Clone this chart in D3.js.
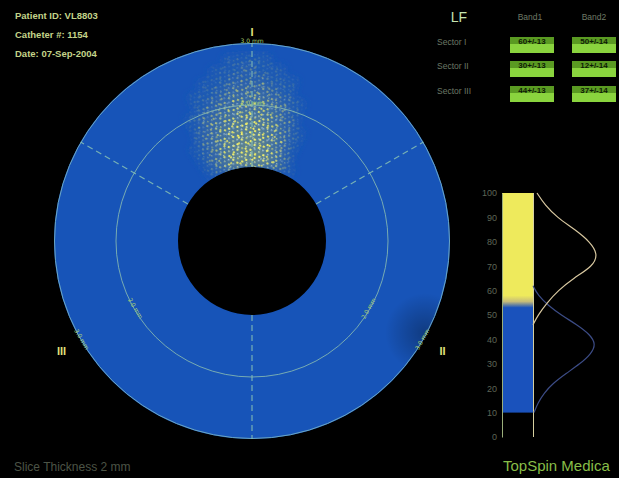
<!DOCTYPE html>
<html>
<head>
<meta charset="utf-8">
<script src="https://cdn.jsdelivr.net/npm/d3@7"></script>
<style>
  body { margin: 0; background: #000; }
  svg { display: block; }
</style>
</head>
<body>
<svg id="chart" width="619" height="478"></svg>
<script>
// header / table text
const headerLines = ['Patient ID: VL8803', 'Catheter #: 1154', 'Date: 07-Sep-2004'];
const tableTitle = 'LF';
const bandNames = ['Band1', 'Band2'];
const sectorRows = ['Sector I', 'Sector II', 'Sector III'];
const band1Values = ['60+/-13', '30+/-13', '44+/-13'];
const band2Values = ['50+/-14', '12+/-14', '37+/-14'];

// polar plot
const sectorNames = ['I', 'II', 'III'];
const sectorAngles = [0, 120, 240];          // degrees, clockwise from top
const boundaryAngles = [0, 60, 180, 300];
const ringLabels = ['2.0 mm', '3.0 mm'];     // middle ring, outer ring

// speckle intensity (0-9), rows = inner -> outer, cols = left -> right
const speckle = [
  [1, 2, 4, 6, 8, 9, 9, 9, 8, 6, 4, 2, 1],
  [1, 3, 4, 6, 8, 9, 9, 9, 8, 6, 4, 2, 0],
  [1, 2, 4, 6, 7, 8, 9, 8, 7, 5, 3, 1, 0],
  [1, 2, 4, 5, 7, 8, 8, 8, 6, 5, 3, 1, 0],
  [0, 2, 3, 5, 6, 7, 7, 7, 6, 4, 2, 1, 0],
  [0, 1, 3, 4, 5, 6, 6, 6, 5, 3, 2, 0, 0],
  [0, 1, 2, 3, 4, 5, 5, 5, 4, 3, 1, 0, 0],
  [0, 0, 1, 2, 3, 4, 4, 4, 3, 2, 1, 0, 0],
  [0, 0, 1, 1, 2, 3, 3, 3, 2, 1, 0, 0, 0],
  [0, 0, 0, 1, 1, 2, 2, 2, 1, 1, 0, 0, 0],
  [0, 0, 0, 0, 1, 1, 2, 1, 1, 0, 0, 0, 0],
  [0, 0, 0, 0, 0, 1, 1, 1, 0, 0, 0, 0, 0]
];

// colour bar + distributions
const barTicks = [0, 10, 20, 30, 40, 50, 60, 70, 80, 90, 100];
const blueBand = [10, 53];
const yellowBand = [58, 100];
const yellowLevels = [100, 95, 90, 85, 80, 75, 70, 65, 60, 55, 50, 46];
const yellowFreq = [4, 12, 24, 42, 57, 65, 60, 40, 25, 14, 5, 0];
const blueLevels = [62, 58, 54, 50, 46, 42, 38, 34, 30, 26, 22, 18, 14, 10];
const blueFreq = [0, 5, 15, 28, 44, 57, 63, 58, 47, 33, 20, 11, 5, 1];

const BLUE = '#1754b8';
const YELLOW = '#eeea5c';
const TXT = '#c4d48a';

const svg = d3.select('#chart');
const defs = svg.append('defs');

svg.append('rect').attr('width', 619).attr('height', 478).attr('fill', '#000');

// ---------- header ----------
svg.append('g')
  .selectAll('text')
  .data(headerLines)
  .enter().append('text')
    .attr('x', 15)
    .attr('y', (d, i) => 19 + i * 19)
    .attr('fill', TXT)
    .attr('font-family', 'Liberation Sans, Arial, sans-serif')
    .attr('font-weight', 'bold')
    .attr('font-size', 9.5)
    .text(d => d);

// ---------- polar plot ----------
const cx = 252, cy = 241;
const rHole = 74, rMid = 136, rOuter = 198;
const rad = deg => deg * Math.PI / 180;
const pt = (deg, r) => [cx + r * Math.sin(rad(deg)), cy - r * Math.cos(rad(deg))];

const polar = svg.append('g');
const ringPath = d3.arc()({ innerRadius: rHole, outerRadius: rOuter, startAngle: 0, endAngle: 2 * Math.PI });

polar.append('path')
  .attr('transform', `translate(${cx},${cy})`)
  .attr('d', ringPath)
  .attr('fill', BLUE);

defs.append('clipPath').attr('id', 'ringClip')
  .append('path')
    .attr('transform', `translate(${cx},${cy})`)
    .attr('d', ringPath);

// darker shading near sector II rim
const shade = defs.append('radialGradient').attr('id', 'shade');
shade.append('stop').attr('offset', '0%').attr('stop-color', '#000').attr('stop-opacity', 0.3);
shade.append('stop').attr('offset', '100%').attr('stop-color', '#000').attr('stop-opacity', 0);
const shadePt = pt(118, 196);
polar.append('circle')
  .attr('clip-path', 'url(#ringClip)')
  .attr('cx', shadePt[0]).attr('cy', shadePt[1]).attr('r', 40)
  .attr('fill', 'url(#shade)');

// speckle cells
const nRows = speckle.length, nCols = speckle[0].length;
const rScale = d3.scaleLinear().domain([0, nRows]).range([rHole, rHole + nRows * 9.4]);
const aScale = d3.scaleLinear().domain([0, nCols]).range([rad(-34), rad(31)]);
const cells = [];
speckle.forEach((row, j) => row.forEach((v, i) => {
  if (v > 0) cells.push({ i, j, v });
}));
const cellArc = d3.arc()
  .innerRadius(d => rScale(d.j))
  .outerRadius(d => rScale(d.j + 1))
  .startAngle(d => aScale(d.i))
  .endAngle(d => aScale(d.i + 1));

defs.append('filter').attr('id', 'blur').attr('x', '-30%').attr('y', '-30%').attr('width', '160%').attr('height', '160%')
  .append('feGaussianBlur').attr('stdDeviation', 3.5);

const glowColor = d3.interpolateRgb(BLUE, '#d6d24a');
polar.append('g')
  .attr('clip-path', 'url(#ringClip)')
  .append('g')
    .attr('filter', 'url(#blur)')
    .attr('transform', `translate(${cx},${cy})`)
    .selectAll('path')
    .data(cells)
    .enter().append('path')
      .attr('d', cellArc)
      .attr('fill', d => glowColor(d.v / 9 * 0.4));

// speckle texture: two overlapping dot tiles
const speckDotsA = [
  [1, 1, 2.2, '#f4f06a'], [6, 2, 1.6, '#b8d0d8'], [10, 0, 2.2, '#e8ec7a'],
  [3, 5, 1.6, '#d8e4a0'], [8, 6, 2.2, '#f8f46e'], [12, 4, 1.6, '#9fc4d8'],
  [0, 8, 1.6, '#e6e870'], [5, 9, 2.2, '#f2ee64'], [10, 9, 1.6, '#c8dcc0']
];
const speckDotsB = [
  [2, 3, 2, '#f0ec60'], [9, 1, 1.5, '#d0e0a8'], [14, 6, 2, '#f6f26c'],
  [5, 10, 1.5, '#a8c8d8'], [11, 11, 2, '#ece866']
];
function addPattern(id, dots, w, h, rot) {
  const p = defs.append('pattern').attr('id', id)
    .attr('patternUnits', 'userSpaceOnUse')
    .attr('width', w).attr('height', h)
    .attr('patternTransform', `rotate(${rot})`);
  p.selectAll('rect').data(dots).enter().append('rect')
    .attr('x', d => d[0]).attr('y', d => d[1])
    .attr('width', d => d[2]).attr('height', d => d[2] * 0.9)
    .attr('fill', d => d[3]);
}
addPattern('speckA', speckDotsA, 14, 11, 23);
addPattern('speckB', speckDotsB, 17, 13, -31);

const mask = defs.append('mask').attr('id', 'speckMask')
  .attr('maskUnits', 'userSpaceOnUse').attr('x', 0).attr('y', 0).attr('width', 619).attr('height', 478);
mask.append('g')
  .attr('filter', 'url(#blur)')
  .attr('transform', `translate(${cx},${cy})`)
  .selectAll('path')
  .data(cells)
  .enter().append('path')
    .attr('d', cellArc)
    .attr('fill', '#fff')
    .attr('fill-opacity', d => Math.min(1, d.v / 7));

['speckA', 'speckB'].forEach(id => {
  polar.append('rect')
    .attr('clip-path', 'url(#ringClip)')
    .attr('mask', 'url(#speckMask)')
    .attr('x', cx - rOuter).attr('y', cy - rOuter)
    .attr('width', 2 * rOuter).attr('height', 2 * rOuter)
    .attr('fill', `url(#${id})`);
});

// rings and sector boundaries
polar.append('circle')
  .attr('cx', cx).attr('cy', cy).attr('r', rMid)
  .attr('fill', 'none').attr('stroke', '#8fc0b0').attr('stroke-width', 1).attr('stroke-opacity', 0.8);
polar.append('circle')
  .attr('cx', cx).attr('cy', cy).attr('r', rOuter - 0.5)
  .attr('fill', 'none').attr('stroke', '#6aa6c4').attr('stroke-width', 1);

polar.append('g')
  .selectAll('line')
  .data(boundaryAngles)
  .enter().append('line')
    .attr('x1', d => pt(d, rHole)[0]).attr('y1', d => pt(d, rHole)[1])
    .attr('x2', d => pt(d, rOuter)[0]).attr('y2', d => pt(d, rOuter)[1])
    .attr('stroke', '#86c0b4')
    .attr('stroke-width', 1.2)
    .attr('stroke-opacity', 0.85)
    .attr('stroke-dasharray', '6,4');

// ring labels along the circles
const ringLabelData = [];
[rMid, rOuter].forEach((r, k) => sectorAngles.forEach(a => ringLabelData.push({ a, r, text: ringLabels[k] })));
polar.append('g')
  .selectAll('text')
  .data(ringLabelData)
  .enter().append('text')
    .attr('transform', d => {
      const p = pt(d.a, d.r + (d.a === 0 ? 1 : -1));
      const rot = d.a > 90 ? d.a - 180 : d.a;
      return `translate(${p[0]},${p[1]}) rotate(${rot})`;
    })
    .attr('text-anchor', 'middle')
    .attr('dy', d => d.a === 0 ? '0.1em' : '0.3em')
    .attr('fill', '#a8d070')
    .attr('font-family', 'DejaVu Sans, sans-serif')
    .attr('font-size', 6)
    .text(d => d.text);

// sector names
polar.append('g')
  .selectAll('text')
  .data(sectorNames)
  .enter().append('text')
    .attr('x', (d, i) => pt(sectorAngles[i], i === 0 ? 209 : 220)[0])
    .attr('y', (d, i) => pt(sectorAngles[i], i === 0 ? 209 : 220)[1])
    .attr('dy', '0.35em')
    .attr('text-anchor', 'middle')
    .attr('fill', '#dfe07a')
    .attr('font-family', 'Liberation Sans, Arial, sans-serif')
    .attr('font-weight', 'bold')
    .attr('font-size', 11)
    .text(d => d);

// ---------- table ----------
const table = svg.append('g').attr('font-family', 'Liberation Sans, Arial, sans-serif');
table.append('text')
  .attr('x', 459).attr('y', 22)
  .attr('text-anchor', 'middle')
  .attr('fill', '#c6e4b0')
  .attr('font-size', 14)
  .text(tableTitle);

const colX = [510, 572];
const rowY = [37, 61, 86];
const boxW = 44, boxH = 16;

table.selectAll('.band')
  .data(bandNames)
  .enter().append('text')
    .attr('class', 'band')
    .attr('x', (d, i) => colX[i] + boxW / 2 - (i === 0 ? 2 : 0))
    .attr('y', 20)
    .attr('text-anchor', 'middle')
    .attr('fill', '#6f7a66')
    .attr('font-size', 8.5)
    .text(d => d);

table.selectAll('.sector')
  .data(sectorRows)
  .enter().append('text')
    .attr('class', 'sector')
    .attr('x', 437)
    .attr('y', (d, i) => rowY[i] + 8)
    .attr('fill', '#6c7866')
    .attr('font-size', 8.5)
    .text(d => d);

const cellData = [];
sectorRows.forEach((s, r) => {
  cellData.push({ r, c: 0, text: band1Values[r] });
  cellData.push({ r, c: 1, text: band2Values[r] });
});
const cellG = table.selectAll('.cell')
  .data(cellData)
  .enter().append('g')
    .attr('class', 'cell')
    .attr('transform', d => `translate(${colX[d.c]},${rowY[d.r]})`);
cellG.append('rect')
  .attr('width', boxW).attr('height', boxH)
  .attr('fill', '#8ad43e');
cellG.append('rect')
  .attr('width', boxW).attr('height', 7)
  .attr('fill', '#5a9a22');
cellG.append('text')
  .attr('x', boxW / 2).attr('y', 7)
  .attr('text-anchor', 'middle')
  .attr('fill', '#0e1a04')
  .attr('font-weight', 'bold')
  .attr('font-size', 8)
  .text(d => d.text);

// ---------- colour bar ----------
const yBar = d3.scaleLinear().domain([0, 100]).range([437, 193]);
const barX0 = 502, barX1 = 533;

const grad = defs.append('linearGradient').attr('id', 'barGrad')
  .attr('gradientUnits', 'userSpaceOnUse')
  .attr('x1', 0).attr('x2', 0)
  .attr('y1', yBar(blueBand[0])).attr('y2', yBar(yellowBand[1]));
const off = v => (v - blueBand[0]) / (yellowBand[1] - blueBand[0]);
grad.append('stop').attr('offset', off(blueBand[0])).attr('stop-color', '#1a52bc');
grad.append('stop').attr('offset', off(blueBand[1])).attr('stop-color', '#1a52bc');
grad.append('stop').attr('offset', off((blueBand[1] + yellowBand[0]) / 2)).attr('stop-color', '#c6bc7a');
grad.append('stop').attr('offset', off(yellowBand[0])).attr('stop-color', YELLOW);
grad.append('stop').attr('offset', off(yellowBand[1])).attr('stop-color', YELLOW);

svg.append('rect')
  .attr('x', barX0).attr('y', yBar(yellowBand[1]))
  .attr('width', barX1 - barX0)
  .attr('height', yBar(blueBand[0]) - yBar(yellowBand[1]))
  .attr('fill', 'url(#barGrad)');

const axis = svg.append('g')
  .attr('transform', `translate(${barX0},0)`)
  .call(d3.axisLeft(yBar).tickValues(barTicks).tickSize(0).tickPadding(5));
axis.select('.domain').attr('stroke', '#9aae7a').attr('stroke-width', 1);
axis.selectAll('text')
  .attr('fill', '#5e6656')
  .attr('font-family', 'Liberation Sans, Arial, sans-serif')
  .attr('font-size', 9);

svg.append('line')
  .attr('x1', barX1 + 0.5).attr('x2', barX1 + 0.5)
  .attr('y1', yBar(0)).attr('y2', yBar(100))
  .attr('stroke', '#d6d0a0').attr('stroke-width', 1);

const xFreq = d3.scaleLinear().domain([0, 70]).range([barX1, barX1 + 70]);
const curve = d3.line()
  .x(d => xFreq(d[1]))
  .y(d => yBar(d[0]))
  .curve(d3.curveBasis);

svg.append('path')
  .attr('d', curve(d3.zip(blueLevels, blueFreq)))
  .attr('fill', 'none')
  .attr('stroke', '#3c4c86')
  .attr('stroke-width', 1.2);
svg.append('path')
  .attr('d', curve(d3.zip(yellowLevels, yellowFreq)))
  .attr('fill', 'none')
  .attr('stroke', '#d8c8a0')
  .attr('stroke-width', 1.2);

// ---------- footer ----------
svg.append('text')
  .attr('x', 14).attr('y', 471)
  .attr('fill', '#4c5446')
  .attr('font-family', 'Liberation Sans, Arial, sans-serif')
  .attr('font-size', 12)
  .text('Slice Thickness  2 mm');

svg.append('text')
  .attr('x', 503).attr('y', 471)
  .attr('fill', '#88be48')
  .attr('font-family', 'Liberation Sans, Arial, sans-serif')
  .attr('font-size', 15)
  .text('TopSpin Medica');
</script>
</body>
</html>
